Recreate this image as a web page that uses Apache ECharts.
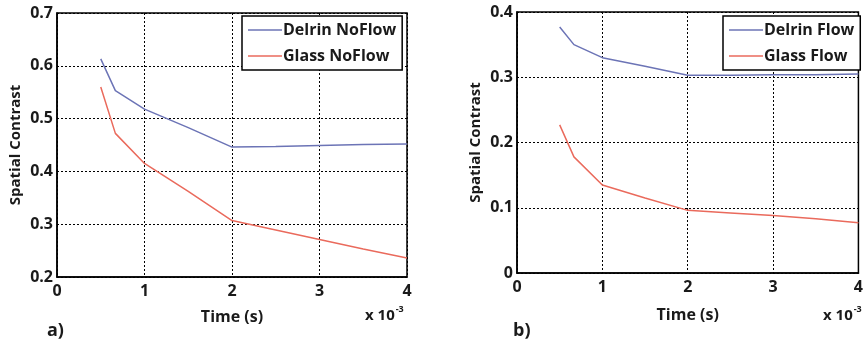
<!DOCTYPE html>
<html>
<head>
<meta charset="utf-8">
<script src="https://cdn.jsdelivr.net/npm/echarts@6/dist/echarts.min.js"></script>
<style>html,body{margin:0;padding:0;background:#fff}#c{width:866px;height:346px}</style>
</head>
<body>
<div id="c"></div>
<script>
// Time in units of 1e-3 s
const timeA = [0.5, 0.667, 1, 1.5, 2, 2.5, 3, 3.5, 4];
const delrinNoFlow = [0.613, 0.553, 0.518, 0.483, 0.446, 0.447, 0.449, 0.451, 0.452];
const glassNoFlow  = [0.560, 0.472, 0.415, 0.362, 0.307, 0.289, 0.271, 0.253, 0.236];
const timeB = [0.5, 0.667, 1, 1.5, 2, 2.5, 3, 3.5, 4];
const delrinFlow = [0.377, 0.350, 0.330, 0.317, 0.303, 0.303, 0.304, 0.304, 0.305];
const glassFlow  = [0.227, 0.178, 0.135, 0.115, 0.096, 0.092, 0.088, 0.083, 0.077];
const xTicks = [0, 1, 2, 3, 4];
const yTicksA = [0.2, 0.3, 0.4, 0.5, 0.6, 0.7];
const yTicksB = [0, 0.1, 0.2, 0.3, 0.4];

const FONT = 'Open Sans';
const TXT = '#1a1a1a';
const BLUE = '#6c74b6';
const RED = '#ea6a5c';

function pairs(xs, ys){ return xs.map((x,i)=>[x, ys[i]]); }

function xAxis(gi){
  return {
    type:'value', gridIndex:gi, min:xTicks[0], max:xTicks[xTicks.length-1], interval:1,
    name:'Time (s)', nameLocation:'middle', nameGap: gi===0 ? 32 : 34,
    nameTextStyle:{fontFamily:FONT, fontWeight:'bold', fontSize:16, color:TXT},
    axisLine:{show:true, lineStyle:{color:'#000', width:1.5}},
    axisTick:{show:false},
    axisLabel:{fontFamily:FONT, fontWeight:'bold', fontSize:16, color:TXT, margin:6},
    splitLine:{show:true, lineStyle:{color:'#000', type:[2,2], width:1}}
  };
}
function yAxis(gi, ticks){
  return {
    type:'value', gridIndex:gi, min:ticks[0], max:ticks[ticks.length-1], interval:0.1,
    name:'Spatial Contrast', nameLocation:'middle', nameGap:34,
    nameTextStyle:{fontFamily:FONT, fontWeight:'bold', fontSize:15, color:TXT},
    axisLine:{show:true, lineStyle:{color:'#000', width:1.5}},
    axisTick:{show:false},
    axisLabel:{fontFamily:FONT, fontWeight:'bold', fontSize:16, color:TXT, margin:4,
      formatter: v => (Math.round(v*10)/10).toString()},
    splitLine:{show:true, lineStyle:{color:'#000', type:[2,2], width:1}}
  };
}
function legend(left, names){
  return {
    orient:'vertical', left:left, top:16, data:names,
    icon:'rect', itemWidth:34, itemHeight:1.5, itemGap:8,
    backgroundColor:'#fff', borderColor:'#000', borderWidth:1.5, borderRadius:0,
    padding:[5,6,5,6],
    textStyle:{fontFamily:FONT, fontWeight:'bold', fontSize:16, color:TXT, lineHeight:18, padding:[0,0,0,-4]}
  };
}
function line(name, xi, data, color){
  return {name, type:'line', xAxisIndex:xi, yAxisIndex:xi, data, symbol:'none',
    lineStyle:{color, width:1.5}, itemStyle:{color}, z:3, silent:true};
}

const chart = echarts.init(document.getElementById('c'), null, {renderer:'canvas'});
chart.setOption({
  animation:false,
  backgroundColor:'#fff',
  grid:[
    {left:57, top:13, width:350, height:264, show:true, borderColor:'#000', borderWidth:1.5, backgroundColor:'transparent'},
    {left:517, top:12, width:350, height:261, show:true, borderColor:'#000', borderWidth:1.5, backgroundColor:'transparent'}
  ],
  xAxis:[xAxis(0), xAxis(1)],
  yAxis:[yAxis(0, yTicksA), yAxis(1, yTicksB)],
  legend:[legend(242, ['Delrin NoFlow','Glass NoFlow']), legend(723, ['Delrin Flow','Glass Flow'])],
  series:[
    line('Delrin NoFlow', 0, pairs(timeA, delrinNoFlow), BLUE),
    line('Glass NoFlow', 0, pairs(timeA, glassNoFlow), RED),
    line('Delrin Flow', 1, pairs(timeB, delrinFlow), BLUE),
    line('Glass Flow', 1, pairs(timeB, glassFlow), RED)
  ],
  graphic:[
    {type:'text', left:47, top:322, style:{text:'a)', fontFamily:FONT, fontWeight:'bold', fontSize:18, fill:TXT}},
    {type:'text', left:513, top:322, style:{text:'b)', fontFamily:FONT, fontWeight:'bold', fontSize:18, fill:TXT}},
    {type:'text', left:365, top:305, style:{text:'x 10{s|-3}', fontFamily:FONT, fontWeight:'bold', fontSize:15, fill:TXT,
      rich:{s:{fontFamily:FONT, fontWeight:'bold', fontSize:9, fill:TXT, verticalAlign:'top', padding:[0,0,12,1]}}}},
    {type:'text', left:823, top:305, style:{text:'x 10{s|-3}', fontFamily:FONT, fontWeight:'bold', fontSize:15, fill:TXT,
      rich:{s:{fontFamily:FONT, fontWeight:'bold', fontSize:9, fill:TXT, verticalAlign:'top', padding:[0,0,12,1]}}}}
  ]
});
</script>
</body>
</html>
